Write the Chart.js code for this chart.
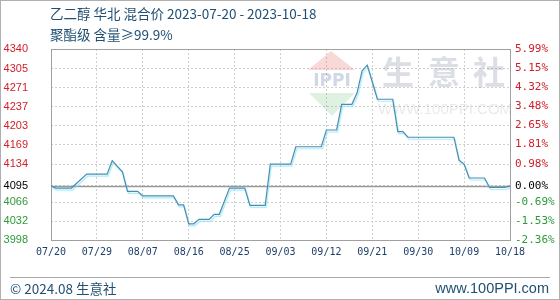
<!DOCTYPE html>
<html><head><meta charset="utf-8">
<script src="https://cdn.jsdelivr.net/npm/chart.js@4"></script>
<style>html,body{margin:0;padding:0;background:#fff}canvas{display:block}</style>
</head><body><canvas id="c" width="560" height="300"></canvas>
<script>
const startDate = '2023-07-20';
const pointDates = ['2023-07-20','2023-07-21','2023-07-24','2023-07-27','2023-07-31','2023-08-01','2023-08-03','2023-08-04','2023-08-06','2023-08-07','2023-08-13','2023-08-14','2023-08-15','2023-08-16','2023-08-17','2023-08-18','2023-08-20','2023-08-21','2023-08-22','2023-08-24','2023-08-27','2023-08-28','2023-08-31','2023-09-01','2023-09-05','2023-09-06','2023-09-11','2023-09-12','2023-09-14','2023-09-15','2023-09-17','2023-09-18','2023-09-19','2023-09-20','2023-09-21','2023-09-22','2023-09-25','2023-09-26','2023-09-27','2023-09-28','2023-10-07','2023-10-08','2023-10-09','2023-10-10','2023-10-13','2023-10-14','2023-10-17','2023-10-18'];
const prices = [4095,4091,4091,4116,4116,4140,4120,4085,4085,4077,4077,4061,4061,4027,4027,4035,4035,4044,4044,4091,4091,4060,4060,4134,4134,4165,4165,4195,4195,4241,4241,4261,4301,4311,4281,4250,4250,4192,4192,4182,4182,4141,4134,4109,4109,4092,4092,4095];
const xTickLabels = ['07/20','07/29','08/07','08/16','08/25','09/03','09/12','09/21','09/30','10/09','10/18'];
const yTickValues = [3998,4032,4066,4095,4134,4169,4203,4237,4271,4305,4340];
const pctTickLabels = ['-2.36%','-1.53%','-0.69%','0.00%','0.98%','1.81%','2.65%','3.48%','4.32%','5.15%','5.99%'];
const baseValue = 4095;
const titleLine1 = '乙二醇 华北 混合价 2023-07-20 - 2023-10-18';
const titleLine2 = '聚酯级 含量≥99.9%';
const footerLeft = '© 2024.08 生意社';
const footerRight = 'www.100PPI.com';

const DAY = 86400000;
const t0 = Date.parse(startDate + 'T00:00:00Z');
const points = pointDates.map((d, i) => ({ x: Math.round((Date.parse(d + 'T00:00:00Z') - t0) / DAY), y: prices[i] }));

const RED = '#d0202a', GREEN = '#2e9a3a', BLACK = '#000';
function tickColor(v) { return v > baseValue ? RED : (v < baseValue ? GREEN : BLACK); }
const TEXT_BLUE = '#1f4f72';

const deco = {
  id: 'deco',
  beforeDraw(chart) {
    const c = chart.ctx;
    c.save();
    c.fillStyle = '#fff'; c.fillRect(0, 0, 560, 300);
    c.strokeStyle = '#b0b0b0'; c.lineWidth = 1; c.strokeRect(0.5, 0.5, 559, 299);
    c.fillStyle = TEXT_BLUE; c.textBaseline = 'middle'; c.textAlign = 'left';
    c.font = '13.5px "Noto Sans CJK SC"';
    c.fillText(titleLine1, 50, 14);
    c.fillText(titleLine2, 50, 35);
    c.strokeStyle = '#a8a8a8'; c.beginPath(); c.moveTo(10, 277.5); c.lineTo(550, 277.5); c.stroke();
    c.font = '13.5px "Noto Sans CJK SC"';
    c.fillText(footerLeft, 10, 289);
    c.textAlign = 'right';
    c.font = '14.5px "Liberation Sans"';
    c.fillText(footerRight, 549, 289);
    c.restore();
  },
  beforeDatasetsDraw(chart) {
    const c = chart.ctx, a = chart.chartArea, y = chart.scales.y;
    c.save();
    c.fillStyle = 'rgba(235,120,110,0.28)';
    c.beginPath(); c.moveTo(331, 51); c.lineTo(308, 70); c.lineTo(355, 70); c.closePath(); c.fill();
    c.fillStyle = 'rgba(110,195,120,0.22)';
    c.beginPath(); c.moveTo(309, 93); c.lineTo(355, 93); c.lineTo(332, 116); c.closePath(); c.fill();
    c.fillStyle = 'rgba(110,130,175,0.32)';
    c.font = 'bold 17px "DejaVu Sans"'; c.textAlign = 'center'; c.textBaseline = 'middle';
    c.fillText('IPPI', 332, 82);
    c.fillStyle = 'rgba(150,158,180,0.34)';
    c.font = 'bold 32px "Noto Sans CJK SC"';
    c.fillText('生', 398, 72); c.fillText('意', 444, 72); c.fillText('社', 489, 72);
    c.fillStyle = 'rgba(170,170,180,0.25)';
    c.font = '15px "Liberation Sans"';
    c.fillText('WWW.100PPI.COM', 445, 110);
    const by = Math.round(y.getPixelForValue(baseValue)) + 0.5;
    c.strokeStyle = '#9a9a9a'; c.lineWidth = 1.3;
    c.beginPath(); c.moveTo(a.left, by); c.lineTo(a.right, by); c.stroke();
    c.strokeStyle = '#a0a0a0'; c.lineWidth = 1;
    c.strokeRect(Math.round(a.left) + 0.5, Math.round(a.top) + 0.5, Math.round(a.right - a.left), Math.round(a.bottom - a.top));
    c.restore();
  },
  beforeDatasetDraw(chart) {
    const c = chart.ctx; c.save();
    c.shadowColor = 'rgba(130,225,245,0.75)'; c.shadowOffsetX = 1; c.shadowOffsetY = 2; c.shadowBlur = 1;
  },
  afterDatasetDraw(chart) { chart.ctx.restore(); }
};

new Chart(document.getElementById('c'), {
  type: 'line',
  data: { datasets: [{ data: points, borderColor: '#4a8db0', borderWidth: 1.2, pointRadius: 0, tension: 0, fill: false }] },
  options: {
    responsive: false, devicePixelRatio: 1, animation: false,
    layout: { padding: { top: 49, bottom: 38, left: 0, right: 0 } },
    plugins: { legend: { display: false }, tooltip: { enabled: false } },
    scales: {
      x: {
        type: 'linear', min: 0, max: 90,
        afterBuildTicks: s => { s.ticks = xTickLabels.map((_, i) => ({ value: i * 9 })); },
        afterFit: s => { s.height = 22; },
        ticks: { callback: (v) => xTickLabels[Math.round(v / 9)], color: '#1f3f6a', font: { family: 'DejaVu Sans Mono', size: 10 }, padding: 6, maxRotation: 0, autoSkip: false },
        grid: { color: '#cfcfcf', drawTicks: false },
        border: { display: false, dash: [2, 2] }
      },
      y: {
        position: 'left', min: 3998, max: 4340,
        afterBuildTicks: s => { s.ticks = yTickValues.map(v => ({ value: v })); },
        afterFit: s => { s.width = 51; },
        ticks: { callback: v => String(v), color: c => tickColor(c.tick.value), font: { family: 'Liberation Sans', size: 11 }, padding: 23 },
        grid: { color: '#cfcfcf', drawTicks: false },
        border: { display: false, dash: [2, 2] }
      },
      y2: {
        position: 'right', min: 3998, max: 4340,
        afterBuildTicks: s => { s.ticks = yTickValues.map(v => ({ value: v })); },
        afterFit: s => { s.width = 50; },
        ticks: { callback: (v) => pctTickLabels[yTickValues.indexOf(v)], color: c => tickColor(c.tick.value), font: { family: 'DejaVu Sans Mono', size: 11 }, padding: 5 },
        grid: { display: false, drawTicks: false },
        border: { display: false }
      }
    }
  },
  plugins: [deco]
});
</script>
</body></html>
